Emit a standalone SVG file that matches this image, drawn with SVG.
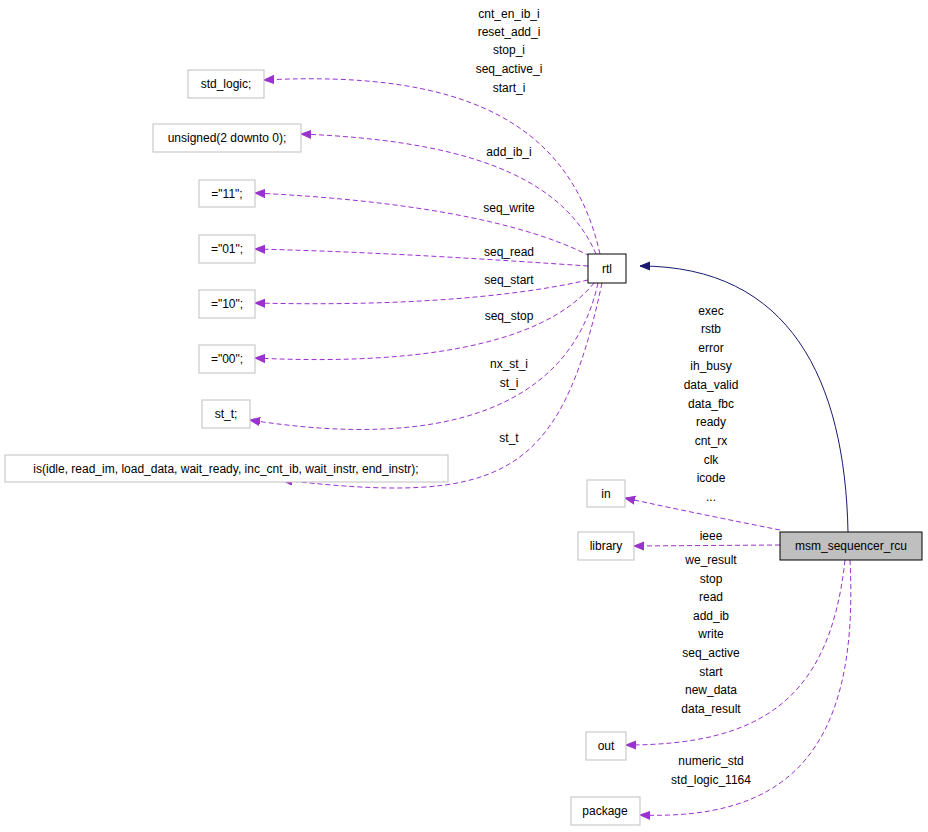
<svg xmlns="http://www.w3.org/2000/svg" width="928" height="832" viewBox="0 0 928 832">
<style>
text{font-family:"Liberation Sans",Arial,sans-serif;font-size:12px;text-anchor:middle;fill:#000}
.n rect{fill:#fff;stroke:#bfbfbf;stroke-width:1}
.e{fill:none;stroke:#9a32cd;stroke-width:1;stroke-dasharray:5,3}
</style>
<defs>
<marker id="p" viewBox="0 0 10 10" refX="10" refY="5" markerWidth="10" markerHeight="10" markerUnits="userSpaceOnUse" orient="auto"><path d="M0,1L10,5L0,9z" fill="#9a32cd" stroke="#9a32cd"/></marker>
<marker id="b" viewBox="0 0 10 10" refX="10" refY="5" markerWidth="10" markerHeight="10" markerUnits="userSpaceOnUse" orient="auto"><path d="M0,1L10,5L0,9z" fill="#191970" stroke="#191970"/></marker>
</defs>
<g id="connectors">
<path d="M848,532 C845,380 790,266 640,266" fill="none" stroke="#191970" marker-end="url(#b)"/>
<path class="e" marker-end="url(#p)" d="M600,254 C570,120 460,70 264,80"/>
<path class="e" marker-end="url(#p)" d="M596,254 C560,170 450,140 301,134"/>
<path class="e" marker-end="url(#p)" d="M590,256 C520,220 400,200 255,193"/>
<path class="e" marker-end="url(#p)" d="M588,266 C500,260 380,252 255,249"/>
<path class="e" marker-end="url(#p)" d="M588,280 C500,300 380,306 255,303"/>
<path class="e" marker-end="url(#p)" d="M594,283 C540,350 400,365 255,358"/>
<path class="e" marker-end="url(#p)" d="M598,283 C570,410 440,450 250,420"/>
<path class="e" marker-end="url(#p)" d="M602,283 C560,480 500,505 282,480"/>
<path class="e" marker-end="url(#p)" d="M780,530 C730,520 680,510 625,498"/>
<path class="e" marker-end="url(#p)" d="M780,545 L634,546"/>
<path class="e" marker-end="url(#p)" d="M845,560 C830,700 760,745 626,745"/>
<path class="e" marker-end="url(#p)" d="M850,560 C860,760 780,820 640,815"/>
</g>
<g id="labels">
<text x="509" y="18">cnt_en_ib_i</text><text x="509" y="36">reset_add_i</text><text x="509" y="54">stop_i</text><text x="509" y="73">seq_active_i</text><text x="509" y="92">start_i</text>
<text x="509" y="156">add_ib_i</text>
<text x="509" y="212">seq_write</text>
<text x="509" y="256">seq_read</text>
<text x="509" y="284">seq_start</text>
<text x="509" y="320">seq_stop</text>
<text x="509" y="368">nx_st_i</text><text x="509" y="387">st_i</text>
<text x="509" y="442">st_t</text>
<text x="711" y="315">exec</text><text x="711" y="333">rstb</text><text x="711" y="352">error</text><text x="711" y="370">ih_busy</text><text x="711" y="389">data_valid</text><text x="711" y="408">data_fbc</text><text x="711" y="426">ready</text><text x="711" y="445">cnt_rx</text><text x="711" y="464">clk</text><text x="711" y="482">icode</text><text x="711" y="501">...</text>
<text x="711" y="540">ieee</text>
<text x="711" y="564">we_result</text><text x="711" y="583">stop</text><text x="711" y="601">read</text><text x="711" y="620">add_ib</text><text x="711" y="638">write</text><text x="711" y="657">seq_active</text><text x="711" y="676">start</text><text x="711" y="694">new_data</text><text x="711" y="713">data_result</text>
<text x="711" y="765">numeric_std</text><text x="711" y="784">std_logic_1164</text>
</g>
<g id="std_logic" class="n"><rect x="188" y="70" width="76" height="28"/><text x="226" y="88">std_logic;</text></g>
<g id="unsigned" class="n"><rect x="153" y="124" width="148" height="28"/><text x="227" y="142">unsigned(2 downto 0);</text></g>
<g id="c11" class="n"><rect x="199" y="180" width="56" height="27"/><text x="227" y="198">="11";</text></g>
<g id="c01" class="n"><rect x="199" y="235" width="56" height="28"/><text x="227" y="253">="01";</text></g>
<g id="c10" class="n"><rect x="199" y="290" width="56" height="28"/><text x="227" y="308">="10";</text></g>
<g id="c00" class="n"><rect x="199" y="345" width="56" height="28"/><text x="227" y="363">="00";</text></g>
<g id="st_t" class="n"><rect x="202" y="400" width="48" height="28"/><text x="226" y="418">st_t;</text></g>
<g id="is" class="n"><rect x="5" y="455" width="443" height="27"/><text x="226" y="473">is(idle, read_im, load_data, wait_ready, inc_cnt_ib, wait_instr, end_instr);</text></g>
<g id="in" class="n"><rect x="587" y="480" width="38" height="27"/><text x="606" y="498">in</text></g>
<g id="library" class="n"><rect x="578" y="532" width="56" height="28"/><text x="606" y="550">library</text></g>
<g id="out" class="n"><rect x="586" y="732" width="40" height="28"/><text x="606" y="750">out</text></g>
<g id="package" class="n"><rect x="571" y="797" width="69" height="28"/><text x="605" y="815">package</text></g>
<g id="rtl"><rect x="588" y="254" width="38" height="29" fill="#fff" stroke="#000"/><text x="607" y="273">rtl</text></g>
<g id="msm"><rect x="780" y="532" width="142" height="28" fill="#bfbfbf" stroke="#000"/><text x="851" y="550">msm_sequencer_rcu</text></g>
</svg>
